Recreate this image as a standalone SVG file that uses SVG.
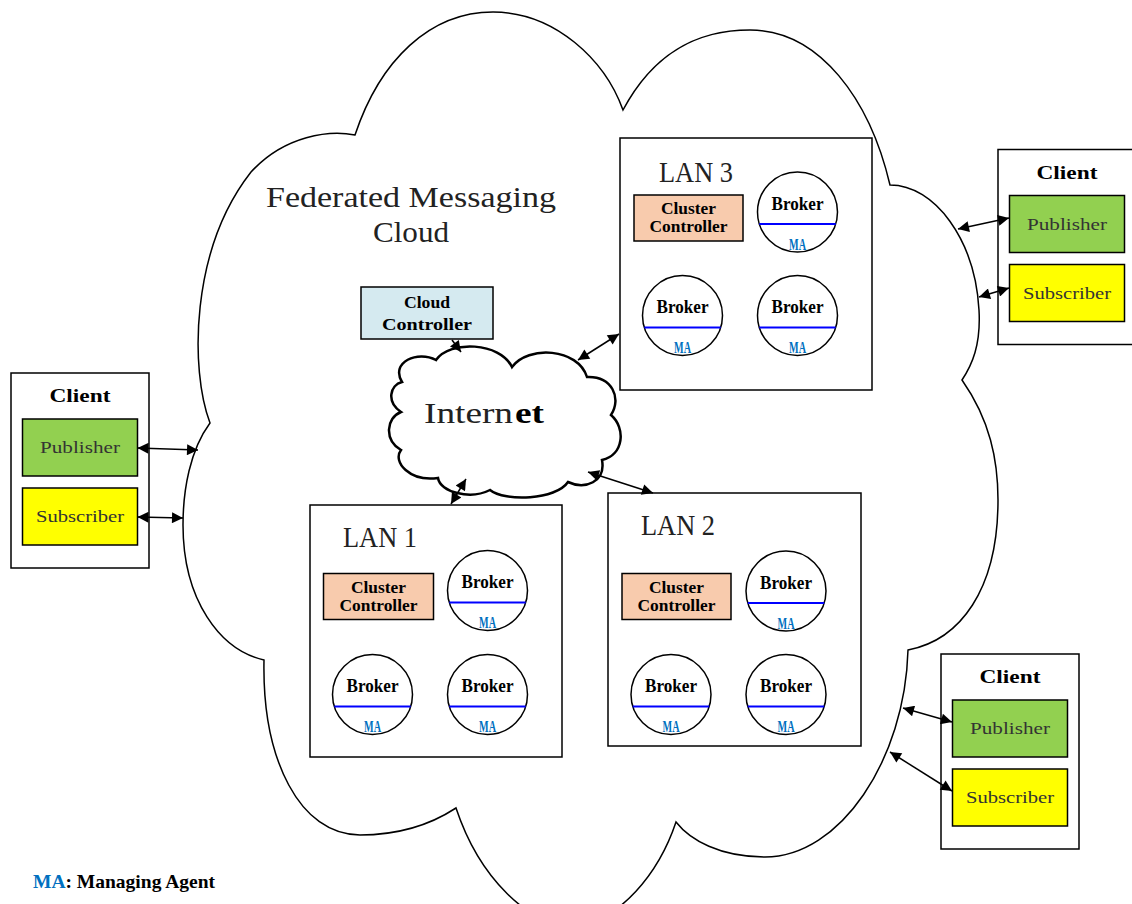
<svg xmlns="http://www.w3.org/2000/svg" width="1132" height="904" viewBox="0 0 1132 904">
<defs>
<style>
.mono{font-family:"Liberation Serif","DejaVu Serif",serif;}
.box{fill:#fff;stroke:#000;stroke-width:1.5;}
.cc{fill:#F8CBAD;stroke:#000;stroke-width:1.5;}
.ctl{fill:#D5EAF0;stroke:#000;stroke-width:1.5;}
.pub{fill:#92D050;stroke:#000;stroke-width:1.5;}
.sub{fill:#FFFF00;stroke:#000;stroke-width:1.5;}
.brk{fill:#fff;stroke:#000;stroke-width:1.5;}
.maline{stroke:#0000FF;stroke-width:2;}
.ma{fill:#0070C0;font-weight:bold;font-size:16px;}
.bt{font-weight:bold;font-size:18px;fill:#000;}
.cct{font-weight:bold;font-size:16px;fill:#000;}
.lan{font-size:30px;fill:#222;}
.ps{font-size:17.5px;fill:#333;}
.cl{font-weight:bold;font-size:19px;fill:#000;}
.conn{stroke:#000;stroke-width:1.5;fill:none;marker-start:url(#ah);marker-end:url(#ah);}
</style>
<marker id="ah" viewBox="0 0 10 10" refX="10" refY="5" markerWidth="14" markerHeight="11" markerUnits="userSpaceOnUse" orient="auto-start-reverse"><path d="M0,0 L10,5 L0,10 Z" fill="#000"/></marker>
</defs>
<rect width="1132" height="904" fill="#fff"/>

<g id="federated-cloud">
<path d="M210,423 C190,370 190,250 251,172 C285,135 330,130 355,135 C380,60 430,12 493,12 C555,12 605,60 623,110 C655,50 700,30 750,30 C820,30 870,100 890,185 C935,185 975,240 979,310 C981,345 972,365 962,380 C990,420 998,460 998,500 C998,590 960,640 908,650 C905,760 840,857 765,857 C720,857 690,840 676,822 C660,870 620,925 570,925 C530,925 480,880 456,808 C430,825 400,835 360,835 C300,835 262,760 264,660 C220,650 183,600 183,525 C183,490 190,450 210,423 Z" fill="#fff" stroke="#000" stroke-width="1.5"/>
<text class="mono" x="411" y="207" font-size="30" fill="#222" text-anchor="middle" textLength="290" lengthAdjust="spacingAndGlyphs">Federated Messaging</text>
<text class="mono" x="411" y="242" font-size="30" fill="#222" text-anchor="middle" textLength="76" lengthAdjust="spacingAndGlyphs">Cloud</text>
</g>

<g id="internet">
<path d="M402,382 C390,362 418,350 436,360 C450,340 500,342 512,367 C528,345 578,348 587,377 C612,376 622,398 611,415 C626,428 624,455 602,460 C606,482 585,490 568,482 C556,500 505,502 490,490 C470,500 440,492 438,478 C410,482 392,462 401,450 C384,440 386,418 401,412 C386,402 390,385 402,382 Z" fill="#fff" stroke="#000" stroke-width="2.5"/>
<text class="mono" x="424" y="423" font-size="30" fill="#222" textLength="89" lengthAdjust="spacingAndGlyphs">Intern</text>
<text class="mono" x="515" y="423" font-size="30" font-weight="bold" fill="#000" textLength="29" lengthAdjust="spacingAndGlyphs">et</text>
</g>

<g id="cloud-controller">
<rect x="361" y="287" width="132" height="52" class="ctl"/>
<text class="mono cct" x="427" y="308" text-anchor="middle" font-size="18" textLength="46" lengthAdjust="spacingAndGlyphs">Cloud</text>
<text class="mono cct" x="427" y="330" text-anchor="middle" font-size="18" textLength="90" lengthAdjust="spacingAndGlyphs">Controller</text>
</g>

<!-- LAN 3 -->
<g id="lan3">
<rect x="620" y="138" width="252" height="252" class="box"/>
<text class="mono lan" x="659" y="182" textLength="74" lengthAdjust="spacingAndGlyphs">LAN 3</text>
</g>
<g id="lan3-cluster-controller">
<rect x="634" y="195" width="109" height="46" class="cc"/>
<text class="mono cct" x="688.5" y="214" text-anchor="middle" textLength="55" lengthAdjust="spacingAndGlyphs">Cluster</text>
<text class="mono cct" x="688.5" y="232" text-anchor="middle" textLength="78" lengthAdjust="spacingAndGlyphs">Controller</text>
</g>
<g id="lan3-broker-1" transform="translate(797.5,212)">
<circle r="40" class="brk"/><line x1="-38.2" y1="12" x2="38.2" y2="12" class="maline"/>
<text class="mono bt" y="-2.5" text-anchor="middle" textLength="52" lengthAdjust="spacingAndGlyphs">Broker</text>
<text class="mono ma" y="37.5" text-anchor="middle" textLength="17" lengthAdjust="spacingAndGlyphs">MA</text>
</g>
<g id="lan3-broker-2" transform="translate(682.5,315.5)">
<circle r="40" class="brk"/><line x1="-38.2" y1="12" x2="38.2" y2="12" class="maline"/>
<text class="mono bt" y="-2.5" text-anchor="middle" textLength="52" lengthAdjust="spacingAndGlyphs">Broker</text>
<text class="mono ma" y="37.5" text-anchor="middle" textLength="17" lengthAdjust="spacingAndGlyphs">MA</text>
</g>
<g id="lan3-broker-3" transform="translate(797.5,315.5)">
<circle r="40" class="brk"/><line x1="-38.2" y1="12" x2="38.2" y2="12" class="maline"/>
<text class="mono bt" y="-2.5" text-anchor="middle" textLength="52" lengthAdjust="spacingAndGlyphs">Broker</text>
<text class="mono ma" y="37.5" text-anchor="middle" textLength="17" lengthAdjust="spacingAndGlyphs">MA</text>
</g>

<!-- LAN 1 -->
<g id="lan1">
<rect x="310" y="505" width="252" height="252" class="box"/>
<text class="mono lan" x="343" y="547" textLength="74" lengthAdjust="spacingAndGlyphs">LAN 1</text>
</g>
<g id="lan1-cluster-controller">
<rect x="323.5" y="573.5" width="110" height="46" class="cc"/>
<text class="mono cct" x="378.5" y="592.5" text-anchor="middle" textLength="55" lengthAdjust="spacingAndGlyphs">Cluster</text>
<text class="mono cct" x="378.5" y="611" text-anchor="middle" textLength="78" lengthAdjust="spacingAndGlyphs">Controller</text>
</g>
<g id="lan1-broker-1" transform="translate(487.5,590.5)">
<circle r="40" class="brk"/><line x1="-38.2" y1="12" x2="38.2" y2="12" class="maline"/>
<text class="mono bt" y="-2.5" text-anchor="middle" textLength="52" lengthAdjust="spacingAndGlyphs">Broker</text>
<text class="mono ma" y="37.5" text-anchor="middle" textLength="17" lengthAdjust="spacingAndGlyphs">MA</text>
</g>
<g id="lan1-broker-2" transform="translate(372.5,694.5)">
<circle r="40" class="brk"/><line x1="-38.2" y1="12" x2="38.2" y2="12" class="maline"/>
<text class="mono bt" y="-2.5" text-anchor="middle" textLength="52" lengthAdjust="spacingAndGlyphs">Broker</text>
<text class="mono ma" y="37.5" text-anchor="middle" textLength="17" lengthAdjust="spacingAndGlyphs">MA</text>
</g>
<g id="lan1-broker-3" transform="translate(487.5,694.5)">
<circle r="40" class="brk"/><line x1="-38.2" y1="12" x2="38.2" y2="12" class="maline"/>
<text class="mono bt" y="-2.5" text-anchor="middle" textLength="52" lengthAdjust="spacingAndGlyphs">Broker</text>
<text class="mono ma" y="37.5" text-anchor="middle" textLength="17" lengthAdjust="spacingAndGlyphs">MA</text>
</g>

<!-- LAN 2 -->
<g id="lan2">
<rect x="608" y="493" width="253" height="253" class="box"/>
<text class="mono lan" x="641" y="535" textLength="74" lengthAdjust="spacingAndGlyphs">LAN 2</text>
</g>
<g id="lan2-cluster-controller">
<rect x="622" y="573.5" width="109" height="46" class="cc"/>
<text class="mono cct" x="676.5" y="592.5" text-anchor="middle" textLength="55" lengthAdjust="spacingAndGlyphs">Cluster</text>
<text class="mono cct" x="676.5" y="611" text-anchor="middle" textLength="78" lengthAdjust="spacingAndGlyphs">Controller</text>
</g>
<g id="lan2-broker-1" transform="translate(786,591)">
<circle r="40" class="brk"/><line x1="-38.2" y1="12" x2="38.2" y2="12" class="maline"/>
<text class="mono bt" y="-2.5" text-anchor="middle" textLength="52" lengthAdjust="spacingAndGlyphs">Broker</text>
<text class="mono ma" y="37.5" text-anchor="middle" textLength="17" lengthAdjust="spacingAndGlyphs">MA</text>
</g>
<g id="lan2-broker-2" transform="translate(671,694.5)">
<circle r="40" class="brk"/><line x1="-38.2" y1="12" x2="38.2" y2="12" class="maline"/>
<text class="mono bt" y="-2.5" text-anchor="middle" textLength="52" lengthAdjust="spacingAndGlyphs">Broker</text>
<text class="mono ma" y="37.5" text-anchor="middle" textLength="17" lengthAdjust="spacingAndGlyphs">MA</text>
</g>
<g id="lan2-broker-3" transform="translate(786,694.5)">
<circle r="40" class="brk"/><line x1="-38.2" y1="12" x2="38.2" y2="12" class="maline"/>
<text class="mono bt" y="-2.5" text-anchor="middle" textLength="52" lengthAdjust="spacingAndGlyphs">Broker</text>
<text class="mono ma" y="37.5" text-anchor="middle" textLength="17" lengthAdjust="spacingAndGlyphs">MA</text>
</g>

<!-- Clients -->
<g id="client-left">
<rect x="11" y="373" width="138" height="195" class="box"/>
<text class="mono cl" x="80" y="402" text-anchor="middle" textLength="61" lengthAdjust="spacingAndGlyphs">Client</text>
<rect x="22.5" y="419" width="115" height="57" class="pub"/>
<text class="mono ps" x="80" y="453" text-anchor="middle" textLength="80" lengthAdjust="spacingAndGlyphs">Publisher</text>
<rect x="22.5" y="488" width="115" height="57" class="sub"/>
<text class="mono ps" x="80" y="522" text-anchor="middle" textLength="88" lengthAdjust="spacingAndGlyphs">Subscriber</text>
</g>
<g id="client-right">
<rect x="998" y="149.5" width="140" height="195" class="box"/>
<text class="mono cl" x="1067" y="178.5" text-anchor="middle" textLength="61" lengthAdjust="spacingAndGlyphs">Client</text>
<rect x="1009.5" y="195.5" width="115" height="57" class="pub"/>
<text class="mono ps" x="1067" y="229.5" text-anchor="middle" textLength="80" lengthAdjust="spacingAndGlyphs">Publisher</text>
<rect x="1009.5" y="264.5" width="115" height="57" class="sub"/>
<text class="mono ps" x="1067" y="298.5" text-anchor="middle" textLength="88" lengthAdjust="spacingAndGlyphs">Subscriber</text>
</g>
<g id="client-bottom-right">
<rect x="941" y="654" width="138" height="195" class="box"/>
<text class="mono cl" x="1010" y="683" text-anchor="middle" textLength="61" lengthAdjust="spacingAndGlyphs">Client</text>
<rect x="952.5" y="700" width="115" height="57" class="pub"/>
<text class="mono ps" x="1010" y="734" text-anchor="middle" textLength="80" lengthAdjust="spacingAndGlyphs">Publisher</text>
<rect x="952.5" y="769" width="115" height="57" class="sub"/>
<text class="mono ps" x="1010" y="803" text-anchor="middle" textLength="88" lengthAdjust="spacingAndGlyphs">Subscriber</text>
</g>

<g id="connectors">
<line x1="452" y1="340" x2="461" y2="352" stroke="#000" stroke-width="1.5" marker-end="url(#ah)"/>
<line x1="578" y1="360" x2="619" y2="334" class="conn"/>
<line x1="451" y1="504" x2="466" y2="479" class="conn"/>
<line x1="588" y1="472" x2="653" y2="493" class="conn"/>
<line x1="137.5" y1="448" x2="198" y2="450" class="conn"/>
<line x1="137.5" y1="517" x2="183" y2="518" class="conn"/>
<line x1="1009" y1="218" x2="958" y2="229" class="conn"/>
<line x1="1009" y1="288" x2="979" y2="297" class="conn"/>
<line x1="952" y1="722" x2="903" y2="708" class="conn"/>
<line x1="952" y1="791" x2="890" y2="752" class="conn"/>
</g>

<g id="legend">
<text class="mono" x="33" y="888" font-size="19.5" font-weight="bold" fill="#000"><tspan fill="#0070C0">MA</tspan>: Managing Agent</text>
</g>
</svg>
